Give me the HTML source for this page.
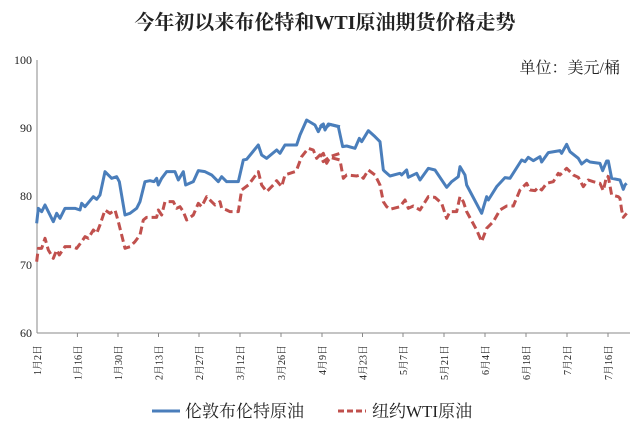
<!DOCTYPE html>
<html><head><meta charset="utf-8"><style>
body{margin:0;background:#fff}
svg{display:block}
text{font-family:"Liberation Serif","Noto Serif CJK SC",serif;fill:#222}
</style></head><body>
<svg width="640" height="441" viewBox="0 0 640 441">
<text x="325" y="29" font-size="20" text-anchor="middle" font-weight="bold">今年初以来布伦特和WTI原油期货价格走势</text>
<text x="620" y="73" font-size="16" text-anchor="end">单位：美元/桶</text>
<line x1="37" y1="60" x2="37" y2="333" stroke="#888" stroke-width="1"/>
<line x1="37" y1="333" x2="630" y2="333" stroke="#888" stroke-width="1"/>
<g font-size="12" text-anchor="end">
<text x="32" y="64">100</text><text x="32" y="132">90</text><text x="32" y="200">80</text><text x="32" y="269">70</text><text x="32" y="337">60</text>
</g>
<g stroke="#888" stroke-width="1">
<line x1="77.4" y1="333" x2="77.4" y2="337"/><line x1="118" y1="333" x2="118" y2="337"/><line x1="158.5" y1="333" x2="158.5" y2="337"/><line x1="199" y1="333" x2="199" y2="337"/><line x1="240" y1="333" x2="240" y2="337"/><line x1="281" y1="333" x2="281" y2="337"/><line x1="322" y1="333" x2="322" y2="337"/><line x1="362.5" y1="333" x2="362.5" y2="337"/><line x1="403" y1="333" x2="403" y2="337"/><line x1="444" y1="333" x2="444" y2="337"/><line x1="485" y1="333" x2="485" y2="337"/><line x1="526" y1="333" x2="526" y2="337"/><line x1="567" y1="333" x2="567" y2="337"/><line x1="608" y1="333" x2="608" y2="337"/>
</g>
<g font-size="10" text-anchor="end">
<text transform="translate(41,345) rotate(-90)">1月2日</text>
<text transform="translate(81.4,345) rotate(-90)">1月16日</text>
<text transform="translate(122,345) rotate(-90)">1月30日</text>
<text transform="translate(162.5,345) rotate(-90)">2月13日</text>
<text transform="translate(203,345) rotate(-90)">2月27日</text>
<text transform="translate(244,345) rotate(-90)">3月12日</text>
<text transform="translate(285,345) rotate(-90)">3月26日</text>
<text transform="translate(326,345) rotate(-90)">4月9日</text>
<text transform="translate(366.5,345) rotate(-90)">4月23日</text>
<text transform="translate(407,345) rotate(-90)">5月7日</text>
<text transform="translate(448,345) rotate(-90)">5月21日</text>
<text transform="translate(489,345) rotate(-90)">6月4日</text>
<text transform="translate(530,345) rotate(-90)">6月18日</text>
<text transform="translate(571,345) rotate(-90)">7月2日</text>
<text transform="translate(612,345) rotate(-90)">7月16日</text>
</g>
<g transform="translate(30,100) scale(0.3333)" fill="none" stroke-linejoin="round">
<polyline stroke="#4a7ebb" stroke-width="9" points="20,370 25,325 35,335 45,315 70,365 80,340 90,355 105,325 135,325 150,330 155,310 165,320 190,290 200,298 210,285 225,215 245,235 260,230 268,245 285,345 300,340 320,325 330,305 345,245 360,242 372,245 380,235 385,255 395,235 410,215 435,215 445,240 460,215 467,255 490,245 505,212 525,215 545,225 565,245 575,230 590,245 620,245 625,245 640,180 650,178 685,135 695,165 710,175 740,150 750,160 765,135 795,135 800,135 810,105 830,60 855,75 865,95 875,75 885,85 900,73 930,80"/>
<polyline stroke="#c0504d" stroke-width="9" stroke-dasharray="24,12" points="20,485 25,445 35,445 45,415 55,450 70,475 80,450 88,465 105,440 125,440 140,445 155,425 165,410 175,415 190,390 200,400 210,375 225,330 240,340 255,330 265,365 285,445 300,440 315,425 330,405 340,360 350,352 380,352 385,330 395,345 405,305 430,305 440,325 450,320 460,335 470,360 490,345 505,310 515,320 530,290 545,305 555,315 570,305 575,325 590,330 600,335 625,335 635,270 655,255 685,215 695,255 710,275 730,255 740,242 755,260 765,225 795,215 800,210 815,170 835,145 850,150 860,175 870,165 880,185 900,170 930,160"/>
</g>
<g transform="translate(320,100) scale(0.3333)" fill="none" stroke-linejoin="round">
<polyline stroke="#4a7ebb" stroke-width="9" points="0,80 10,72 15,90 25,72 55,80 68,140 80,138 105,145 118,115 125,125 145,92 165,110 180,125 190,210 195,215 210,228 240,220 245,225 260,210 265,232 290,220 300,240 325,205 345,210 380,262 395,245 415,230 420,200 435,225 440,255 485,340 500,290 505,300 530,260 555,233 570,235 605,180 615,185 625,172 640,182 660,170 665,186 685,158 720,152 725,160 740,133 750,155 775,175 785,192 800,180 810,186 840,190 848,212 860,183 865,183 875,235 900,240 910,268 915,255 920,250"/>
<polyline stroke="#c0504d" stroke-width="9" stroke-dasharray="24,12" points="0,170 10,160 20,190 30,172 60,180 70,235 80,225 110,228 120,225 130,235 145,210 165,225 180,255 190,305 200,320 210,328 240,320 255,300 265,325 280,318 300,330 325,290 345,292 365,310 380,355 390,335 410,335 420,290 430,305 440,335 470,390 485,425 500,385 520,365 540,330 560,318 580,318 600,270 620,250 630,270 645,272 655,262 665,270 680,250 700,245 715,220 720,225 740,205 760,225 775,232 790,260 805,240 820,245 840,250 850,272 860,228 865,230 875,285 895,290 900,295 905,330 910,352 920,340"/>
</g>
<line x1="152" y1="411" x2="180" y2="411" stroke="#4a7ebb" stroke-width="3"/>
<text x="185" y="417" font-size="17">伦敦布伦特原油</text>
<line x1="338" y1="411" x2="366" y2="411" stroke="#c0504d" stroke-width="3" stroke-dasharray="6,3"/>
<text x="372" y="417" font-size="17">纽约WTI原油</text>
</svg>
</body></html>
